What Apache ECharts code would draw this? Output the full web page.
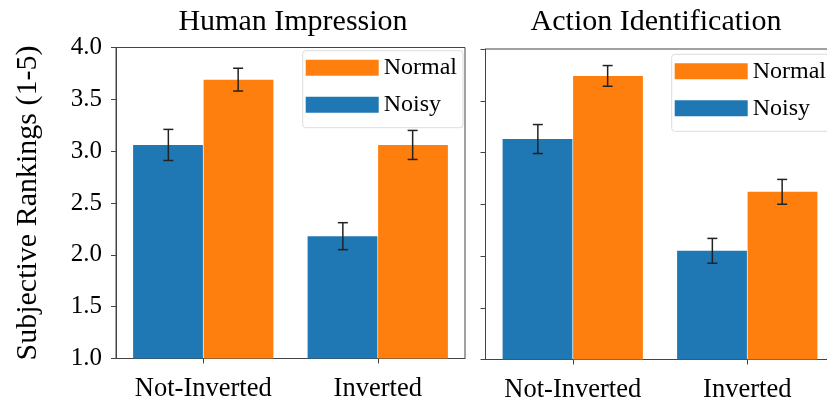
<!DOCTYPE html>
<html>
<head>
<meta charset="utf-8">
<script src="https://cdn.jsdelivr.net/npm/echarts@6/dist/echarts.min.js"></script>
<style>
html,body{margin:0;padding:0;background:#fff;}
#chart{width:827px;height:406px;}
</style>
</head>
<body>
<div id="chart"></div>
<script>
var categories = ['Not-Inverted', 'Inverted'];
var yTicks = [1.0, 1.5, 2.0, 2.5, 3.0, 3.5, 4.0];
var panelTitles = ['Human Impression', 'Action Identification'];
var yAxisTitle = 'Subjective Rankings (1-5)';
var legendNames = ['Normal', 'Noisy'];

var humanNoisy = [3.06, 2.18];
var humanNoisyErr = [0.15, 0.13];
var humanNormal = [3.69, 3.06];
var humanNormalErr = [0.11, 0.14];

var actionNoisy = [3.13, 2.05];
var actionNoisyErr = [0.14, 0.12];
var actionNormal = [3.74, 2.62];
var actionNormalErr = [0.10, 0.12];

var BLUE = '#1f77b4', ORANGE = '#ff7f0e';
var FONT = "'Liberation Serif', 'Times New Roman', serif";
var AXIS_COLOR = '#444';

var chart = echarts.init(document.getElementById('chart'), null, {renderer: 'canvas'});

function errData(vals, errs) {
  return vals.map(function (v, i) { return [i, v, errs[i]]; });
}
function errSeries(vals, errs, side, gi) {
  return {
    type: 'custom',
    xAxisIndex: gi, yAxisIndex: gi,
    z: 10,
    silent: true,
    clip: false,
    data: errData(vals, errs),
    renderItem: function (params, api) {
      var c = api.value(0), v = api.value(1), e = api.value(2);
      var band = api.size([1, 0])[0];
      var off = side * band * 0.2;
      var top = api.coord([c, v + e]);
      var bot = api.coord([c, v - e]);
      var x = top[0] + off;
      var cap = 5;
      var st = {stroke: '#222', lineWidth: 1.5};
      return {
        type: 'group',
        children: [
          {type: 'line', shape: {x1: x, y1: top[1], x2: x, y2: bot[1]}, style: st},
          {type: 'line', shape: {x1: x - cap, y1: top[1], x2: x + cap, y2: top[1]}, style: st},
          {type: 'line', shape: {x1: x - cap, y1: bot[1], x2: x + cap, y2: bot[1]}, style: st}
        ]
      };
    }
  };
}
function barSeries(name, vals, color, gi) {
  return {
    name: name, type: 'bar',
    xAxisIndex: gi, yAxisIndex: gi,
    data: vals,
    barWidth: '40%',
    barGap: '1%',
    itemStyle: {color: color},
    emphasis: {disabled: true}
  };
}
function xAxis(gi) {
  return {
    type: 'category', gridIndex: gi, data: categories,
    axisLine: {show: true, lineStyle: {color: AXIS_COLOR, width: 1}},
    axisTick: {show: true, alignWithLabel: true, length: 5, lineStyle: {color: AXIS_COLOR}},
    axisLabel: {color: '#000', fontFamily: FONT, fontSize: 26.5, margin: 17, interval: 0, hideOverlap: false},
    splitLine: {show: false}
  };
}
function yAxis(gi, showLabels) {
  var a = {
    type: 'value', gridIndex: gi, min: 1, max: 4, interval: 0.5,
    axisLine: {show: true, lineStyle: {color: AXIS_COLOR, width: 1}},
    axisTick: {show: true, length: 5, lineStyle: {color: AXIS_COLOR}},
    axisLabel: {show: showLabels, color: '#000', fontFamily: FONT, fontSize: 25, margin: 14,
      formatter: function (v) { return v.toFixed(1); }},
    splitLine: {show: false}
  };
  if (showLabels) {
    a.name = yAxisTitle;
    a.nameLocation = 'middle';
    a.nameRotate = 90;
    a.nameGap = 73;
    a.nameTextStyle = {color: '#000', fontFamily: FONT, fontSize: 30};
  }
  return a;
}
function legend(left, top) {
  return {
    data: legendNames,
    orient: 'vertical',
    left: left, top: top,
    icon: 'rect',
    itemWidth: 73, itemHeight: 16,
    itemGap: 13,
    padding: [5, 6, 11, 3],
    backgroundColor: '#fff',
    borderColor: '#ddd', borderWidth: 1, borderRadius: 3,
    selectedMode: false,
    textStyle: {color: '#000', fontFamily: FONT, fontSize: 24, lineHeight: 16}
  };
}

var option = {
  backgroundColor: '#fff',
  animation: false,
  graphic: [
    {type: 'text', x: 293, y: 22, style: {text: panelTitles[0], fill: '#000', font: '30px ' + FONT, align: 'center', verticalAlign: 'middle'}},
    {type: 'text', x: 656, y: 22, style: {text: panelTitles[1], fill: '#000', font: '30px ' + FONT, align: 'center', verticalAlign: 'middle'}}
  ],
  grid: [
    {left: 116, top: 47.5, width: 349, height: 311, outerBoundsMode: 'none', containLabel: false, show: true, borderColor: AXIS_COLOR, borderWidth: 1, backgroundColor: 'transparent'},
    {left: 485.5, top: 49, width: 349, height: 310.5, outerBoundsMode: 'none', containLabel: false, show: true, borderColor: AXIS_COLOR, borderWidth: 1, backgroundColor: 'transparent'}
  ],
  xAxis: [xAxis(0), xAxis(1)],
  yAxis: [yAxis(0, true), yAxis(1, false)],
  legend: [legend(302.7, 50.7), legend(671.7, 54.3)],
  series: [
    barSeries('Noisy', humanNoisy, BLUE, 0),
    barSeries('Normal', humanNormal, ORANGE, 0),
    barSeries('Noisy', actionNoisy, BLUE, 1),
    barSeries('Normal', actionNormal, ORANGE, 1),
    errSeries(humanNoisy, humanNoisyErr, -1, 0),
    errSeries(humanNormal, humanNormalErr, 1, 0),
    errSeries(actionNoisy, actionNoisyErr, -1, 1),
    errSeries(actionNormal, actionNormalErr, 1, 1)
  ]
};
chart.setOption(option);
</script>
</body>
</html>
